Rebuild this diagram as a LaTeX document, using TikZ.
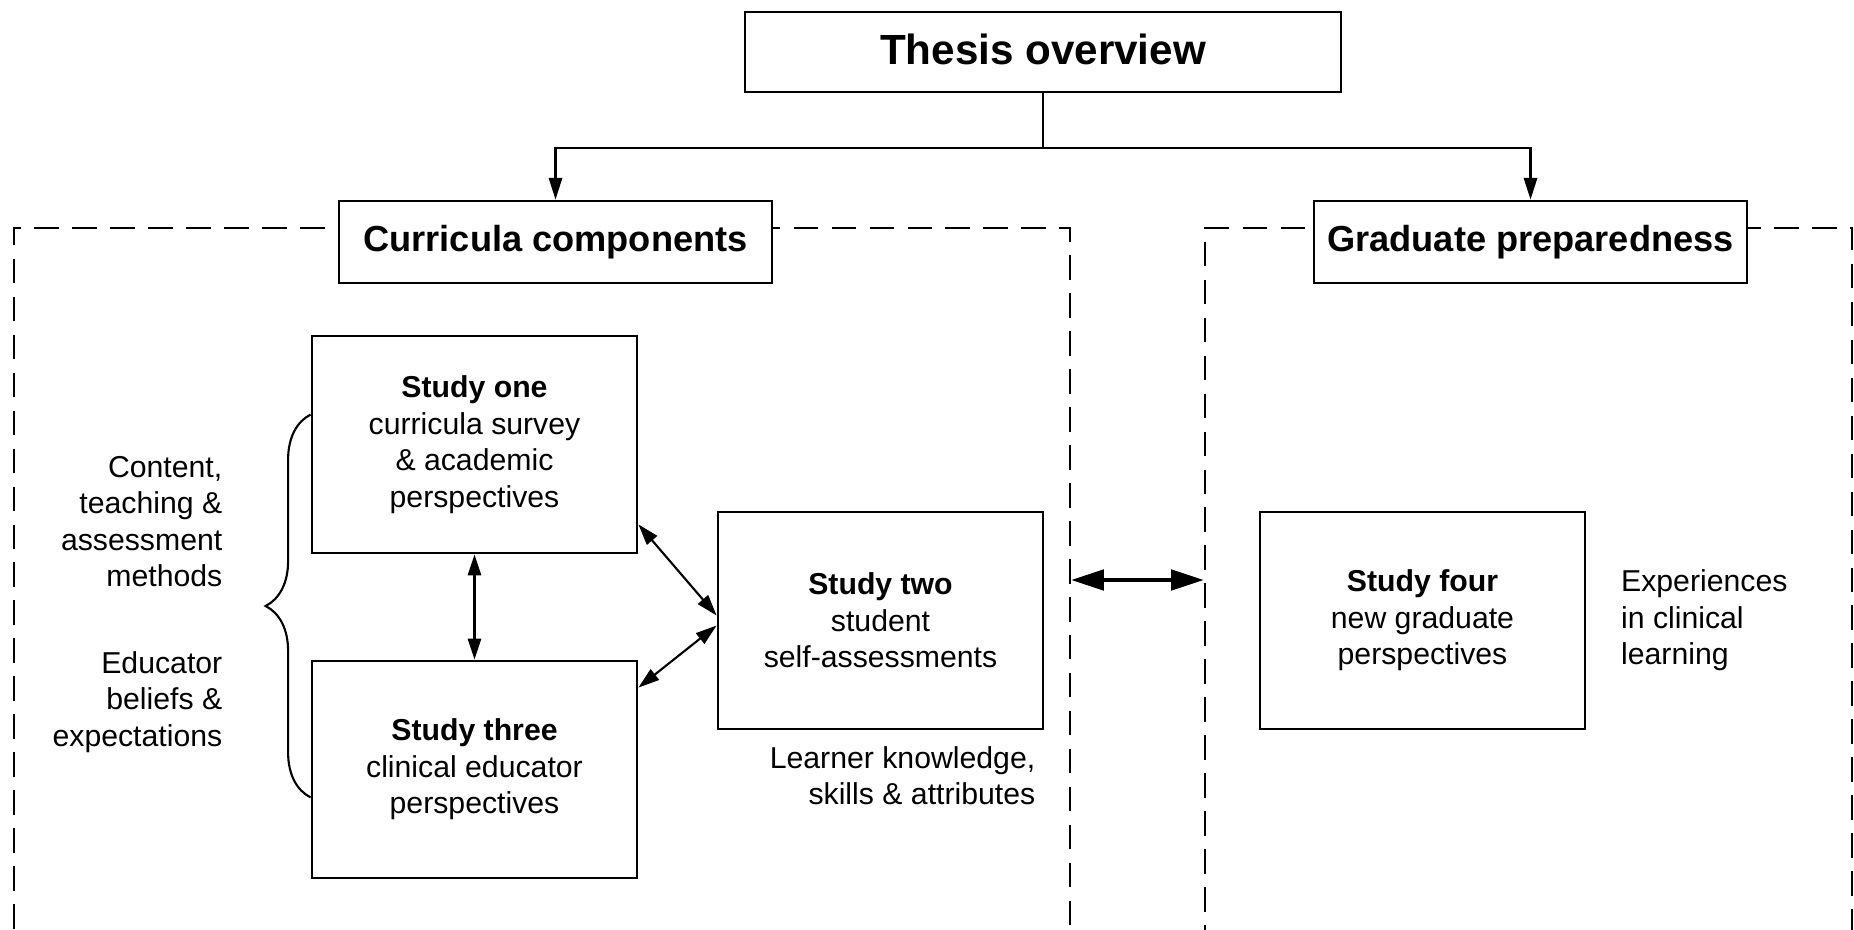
\documentclass[tikz,border=0pt]{standalone}
\usepackage{fontspec}
\setmainfont{Liberation Sans}
\usetikzlibrary{arrows.meta, calc, positioning, decorations.pathreplacing}

\tikzset{
  studybox/.style={draw, line width=0.8pt, fill=white, minimum width=3.25cm, minimum height=2.17cm,
    align=center, inner sep=0pt, font=\fontsize{8.6}{10.4}\selectfont},
  headbox/.style={draw, line width=0.8pt, fill=white, minimum width=4.33cm, minimum height=0.82cm,
    inner sep=0pt, font=\fontsize{10.3}{12}\selectfont\bfseries},
  dashframe/.style={draw, line width=0.7pt, dash pattern=on 7pt off 3.8pt, inner sep=0pt},
  note/.style={inner sep=0pt, font=\fontsize{8.6}{10.4}\selectfont},
  tip/.style={line width=0.6pt, -{Triangle[length=6.2pt,width=3.8pt]}},
  twotip/.style={line width=0.6pt, {Triangle[length=6pt,width=3.8pt]}-{Triangle[length=6pt,width=3.8pt]}},
}

\begin{document}
\begin{tikzpicture}[line cap=butt, line join=miter]
    \useasboundingbox (0,0) rectangle (18.54,-9.30);

    % dashed frames
    \node[dashframe, minimum width=10.56cm, minimum height=7.04cm] (leftframe) at (5.42,-5.80) {};
    \node[dashframe, minimum width=6.47cm, minimum height=7.04cm] (rightframe) at (15.285,-5.80) {};

    % top level
    \node[headbox, minimum width=5.96cm, minimum height=0.80cm, font=\fontsize{12}{14}\selectfont\bfseries] (thesis) at (10.43,-0.52) {\raisebox{1.7pt}{Thesis overview}};
    \node[headbox] (curricula) at (5.555,-2.42) {\raisebox{0.6pt}{Curricula components}};
    \node[headbox] (graduate) at (15.305,-2.42) {\raisebox{0.6pt}{Graduate preparedness}};

    \coordinate (split) at ($(thesis.south)+(0,-0.55)$);
    \draw[tip] (thesis.south) -- (split) -| (curricula.north);
    \draw[tip] (split) -| (graduate.north);

    % studies
    \node[studybox] (one) at (4.745,-4.445) {\textbf{Study one}\\ curricula survey\\ \& academic\\ perspectives};
    \node[studybox] (three) at (4.745,-7.695) {\textbf{Study three}\\ clinical educator\\ perspectives};
    \node[studybox] (two) at (8.805,-6.205) {\textbf{Study two}\\ student\\ self-assessments};
    \node[studybox] (four) at (14.225,-6.205) {\textbf{Study four}\\ new graduate\\ perspectives};

    \draw[twotip] (one.south) -- (three.north);
    \draw[twotip] ([yshift=0.3cm]one.south east) -- ([yshift=0.05cm]two.west);
    \draw[twotip] ([yshift=-0.05cm]two.west) -- ([yshift=-0.28cm]three.north east);

    \draw[line width=1.1pt, {Triangle[length=9.3pt,width=5.8pt]}-{Triangle[length=9.3pt,width=5.8pt]}] (leftframe.east) -- (rightframe.west);

    % brace and side notes
    \draw[line width=0.6pt, decorate, decoration={brace, amplitude=0.45cm}]
        ([yshift=0.82cm]three.south west) -- ([yshift=-0.8cm]one.north west);
    \node[note, align=right, anchor=east] (methods) at (2.23,-5.215) {Content,\\ teaching \&\\ assessment\\ methods};
    \node[note, align=right, anchor=east] (beliefs) at (2.23,-7.02) {Educator\\ beliefs \&\\ expectations};
    \node[note, align=right, anchor=east] (learner) at (10.36,-7.755) {Learner knowledge,\\ skills \& attributes};
    \node[note, align=left, right=0.34cm of four] (clinical) {Experiences\\ in clinical\\ learning};
\end{tikzpicture}
\end{document}
